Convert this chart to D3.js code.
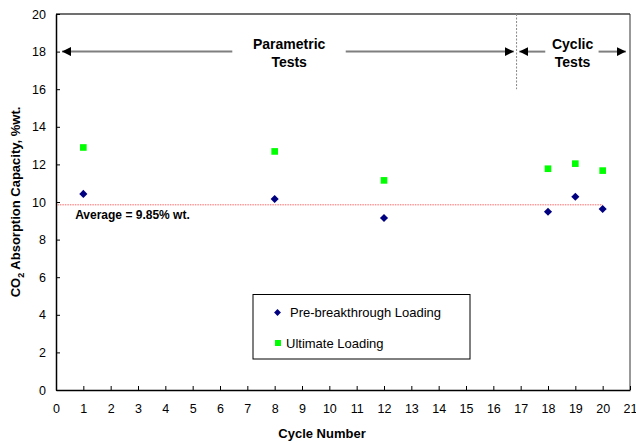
<!DOCTYPE html>
<html>
<head>
<meta charset="utf-8">
<script src="https://cdn.jsdelivr.net/npm/d3@7"></script>
<style>
  html, body { margin: 0; padding: 0; background: #fff; }
  svg { display: block; font-family: Arial, "Liberation Sans", sans-serif; }
</style>
</head>
<body>
<svg id="chart" width="636" height="443"></svg>
<script>
// Cycle numbers and CO2 absorption capacity (%wt.)
const cycles = [1, 8, 12, 18, 19, 20];
const preBreakthrough = [10.43, 10.16, 9.15, 9.48, 10.28, 9.63];
const ultimate = [12.9, 12.69, 11.15, 11.77, 12.04, 11.67];
const averageValue = 9.85;
const xTicks = d3.range(0, 22);
const yTicks = d3.range(0, 21, 2);

const svg = d3.select("#chart");
const x = d3.scaleLinear().domain([0, 21]).range([56, 630]);
const y = d3.scaleLinear().domain([0, 20]).range([390, 14]);

// plot frame: grey top edge, dark right edge
svg.append("line").attr("x1", x(0)).attr("x2", x(21)).attr("y1", y(20)).attr("y2", y(20))
  .attr("stroke", "#707070").attr("stroke-width", 1.8);
svg.append("line").attr("x1", x(21)).attr("x2", x(21)).attr("y1", y(20)).attr("y2", y(0))
  .attr("stroke", "#333").attr("stroke-width", 1);

// axes with inward ticks
const xAxis = svg.append("g").attr("transform", `translate(0,${y(0)})`)
  .call(d3.axisBottom(x).tickValues(xTicks).tickSize(-4).tickPadding(14).tickSizeOuter(0));
const yAxis = svg.append("g").attr("transform", `translate(${x(0)},0)`)
  .call(d3.axisLeft(y).tickValues(yTicks).tickSize(-4).tickPadding(10).tickSizeOuter(0));
[xAxis, yAxis].forEach(g => {
  g.select(".domain").attr("stroke", "#000").attr("stroke-width", 1.5);
  g.selectAll(".tick line").attr("stroke", "#000");
  g.selectAll("text").attr("font-size", 12.5).attr("fill", "#000")
    .attr("font-family", "Arial, 'Liberation Sans', sans-serif");
});
xAxis.selectAll(".tick text").attr("dy", "0.71em");

// axis titles
svg.append("text").attr("x", 322).attr("y", 438).attr("text-anchor", "middle")
  .attr("font-size", 13).attr("font-weight", "bold").text("Cycle Number");
const yt = svg.append("text").attr("transform", "translate(20,202) rotate(-90)")
  .attr("text-anchor", "middle").attr("font-size", 13).attr("font-weight", "bold");
yt.append("tspan").text("CO");
yt.append("tspan").attr("font-size", 9).attr("dy", 4).text("2");
yt.append("tspan").attr("dy", -4).text(" Absorption Capacity,  %wt.");

// average reference line
svg.append("line").attr("x1", x(0.05)).attr("x2", x(20)).attr("y1", y(averageValue)).attr("y2", y(averageValue))
  .attr("stroke", "#ff6666").attr("stroke-width", 1).attr("stroke-dasharray", "1.5,1");
svg.append("text").attr("x", x(0.7)).attr("y", y(averageValue) + 14)
  .attr("font-size", 12).attr("font-weight", "bold").text(`Average = ${averageValue}% wt.`);

// section divider between parametric and cyclic tests
svg.append("line").attr("x1", x(16.85)).attr("x2", x(16.85)).attr("y1", y(20)).attr("y2", y(16))
  .attr("stroke", "#888").attr("stroke-width", 1).attr("stroke-dasharray", "2,1.5");

// section arrows
const defs = svg.append("defs");
defs.append("marker").attr("id", "head").attr("viewBox", "0 0 10 10").attr("refX", 10).attr("refY", 5)
  .attr("markerWidth", 9).attr("markerHeight", 9).attr("markerUnits", "userSpaceOnUse").attr("orient", "auto")
  .append("path").attr("d", "M0,0L10,5L0,10Z").attr("fill", "#000");
const arrows = [[6.45, 0.22], [10.6, 16.75], [17.9, 16.95], [19.85, 20.85]];
svg.selectAll(".arrow").data(arrows).join("line").attr("class", "arrow")
  .attr("x1", d => x(d[0])).attr("x2", d => x(d[1])).attr("y1", y(18)).attr("y2", y(18))
  .attr("stroke", "#7f7f7f").attr("stroke-width", 2).attr("marker-end", "url(#head)");

const sectionLabels = [
  { cx: 8.53, lines: ["Parametric", "Tests"] },
  { cx: 18.9, lines: ["Cyclic", "Tests"] }
];
sectionLabels.forEach(s => {
  s.lines.forEach((t, i) => {
    svg.append("text").attr("x", x(s.cx)).attr("y", y(18) - 3 + i * 18).attr("text-anchor", "middle")
      .attr("font-size", 14).attr("font-weight", "bold").text(t);
  });
});

// data markers
const diamond = d3.symbol().type(d3.symbolDiamond2).size(42);
const square = d3.symbol().type(d3.symbolSquare2).size(56);
svg.selectAll(".pre").data(cycles).join("path").attr("class", "pre")
  .attr("d", diamond).attr("transform", (c, i) => `translate(${x(c)},${y(preBreakthrough[i])})`)
  .attr("fill", "#000080");
svg.selectAll(".ult").data(cycles).join("path").attr("class", "ult")
  .attr("d", square).attr("transform", (c, i) => `translate(${x(c)},${y(ultimate[i])})`)
  .attr("fill", "#00ff00");

// legend
const lg = svg.append("g");
lg.append("rect").attr("x", 253).attr("y", 294.5).attr("width", 217).attr("height", 64.5)
  .attr("fill", "#fff").attr("stroke", "#000").attr("stroke-width", 1);
lg.append("path").attr("d", d3.symbol().type(d3.symbolDiamond2).size(30))
  .attr("transform", "translate(277.5,312.5)").attr("fill", "#000080");
lg.append("text").attr("x", 290).attr("y", 317).attr("font-size", 13).text("Pre-breakthrough Loading");
lg.append("path").attr("d", d3.symbol().type(d3.symbolSquare2).size(46))
  .attr("transform", "translate(278,343)").attr("fill", "#00ff00");
lg.append("text").attr("x", 286).attr("y", 347.5).attr("font-size", 13).text("Ultimate Loading");
</script>
</body>
</html>
